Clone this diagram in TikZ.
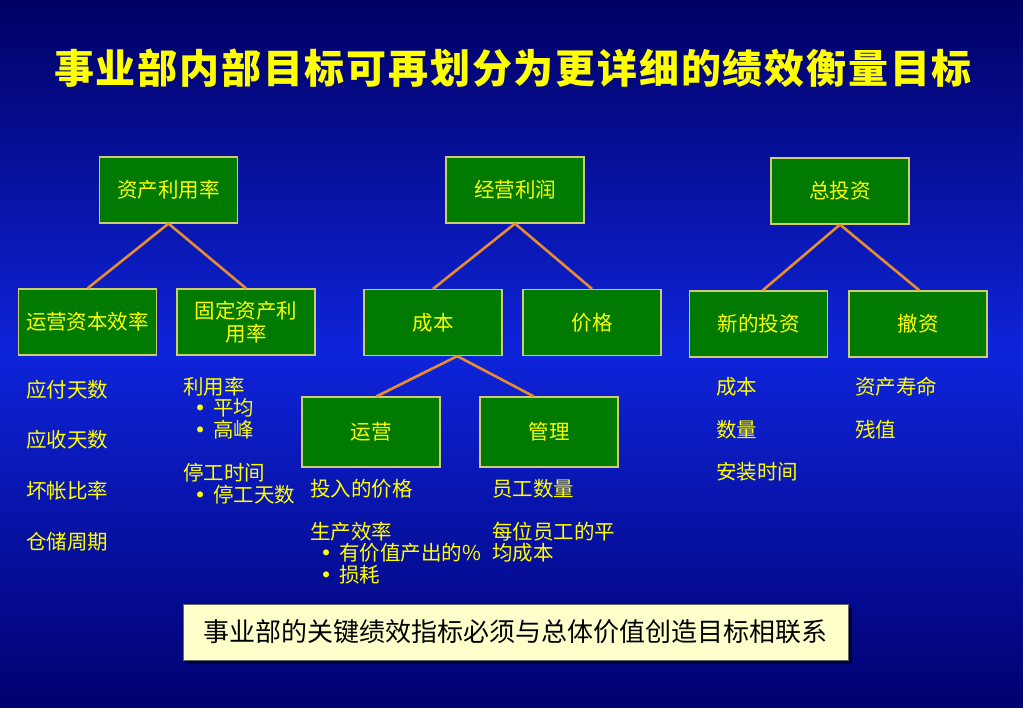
\documentclass[tikz,border=0pt]{standalone}
\usepackage{fontspec}
\setmainfont{Noto Sans CJK SC}
\newfontfamily\bulletfont{DejaVu Sans}
\usetikzlibrary{calc,shadows}
\definecolor{bgtop}{RGB}{0,0,100}
\definecolor{bgmid}{RGB}{14,36,218}
\definecolor{bgbot}{RGB}{0,0,110}
\definecolor{boxgreen}{RGB}{0,122,0}
\definecolor{boxedge}{RGB}{205,205,110}
\definecolor{txtyellow}{RGB}{255,255,0}
\definecolor{connorange}{RGB}{232,140,50}
\definecolor{cream}{RGB}{255,255,204}
\definecolor{shadowcol}{RGB}{0,0,60}
\newcommand{\bul}{{\bulletfont •}\hspace{7pt}}
\tikzset{
  gbox/.style={draw=boxedge, line width=1.2pt, fill=boxgreen, text=txtyellow,
    font=\fontsize{20.5}{23.5}\selectfont, minimum width=138pt, minimum height=66pt,
    inner sep=2pt, align=center},
  conn/.style={draw=connorange, line width=2.6pt},
  lbl/.style={text=txtyellow, font=\fontsize{20.5}{23.5}\selectfont, anchor=west, inner sep=0pt},
  keybox/.style={draw=black!60, line width=0.8pt, fill=cream, text=black,
    font=\fontsize{26}{30}\selectfont, minimum width=665pt, minimum height=56pt,
    drop shadow={shadow xshift=4pt, shadow yshift=-4pt, fill=shadowcol, opacity=1}},
  title/.style={text=txtyellow, font=\fontsize{40}{46}\selectfont\bfseries\addfontfeature{LetterSpace=4.5}}
}
\begin{document}
\begin{tikzpicture}[x=1pt,y=-1pt]
\useasboundingbox (0,0) rectangle (1023,708);
\shade[top color=bgtop, bottom color=bgbot, middle color=bgmid] (0,0) rectangle (1023,708);

\node[title] (ttl) at (513,68) {事业部内部目标可再划分为更详细的绩效衡量目标};

% level 1
\node[gbox] (ast) at (168.5,190) {资产利用率};
\node[gbox] (opr) at (515,190) {经营利润};
\node[gbox] (inv) at (840,191) {总投资};

% level 2
\node[gbox] (wc) at (87.5,322) {运营资本效率};
\node[gbox] (fa) at (246,322) {固定资产利\\用率};
\node[gbox] (cb) at (433,322.5) {成本};
\node[gbox] (pr) at (592,322.5) {价格};
\node[gbox] (ni) at (758.5,324) {新的投资};
\node[gbox] (dv) at (918,324) {撤资};

% level 3
\node[gbox, minimum height=70pt] (yy) at (371,432) {运营};
\node[gbox, minimum height=70pt] (gl) at (549,432) {管理};

% connectors
\draw[conn] (ast.south) -- (wc.north);
\draw[conn] (ast.south) -- (fa.north);
\draw[conn] (opr.south) -- (cb.north);
\draw[conn] (opr.south) -- (pr.north);
\draw[conn] (inv.south) -- ($(ni.north west)!0.53!(ni.north east)$);
\draw[conn] (inv.south) -- ($(dv.north west)!0.51!(dv.north east)$);
\draw[conn] ($(cb.south west)!0.674!(cb.south east)$) -- ($(yy.north west)!0.54!(yy.north east)$);
\draw[conn] ($(cb.south west)!0.674!(cb.south east)$) -- ($(gl.north west)!0.39!(gl.north east)$);

% column 1 labels
\node[lbl] (a1) at (26,390) {应付天数};
\node[lbl] (a2) at (26,440) {应收天数};
\node[lbl] (a3) at (26,491) {坏帐比率};
\node[lbl] (a4) at (26,542) {仓储周期};

% column 2 labels
\node[lbl] (b1) at (183,387) {利用率};
\node[lbl] (b2) at (194,408) {\bul 平均};
\node[lbl] (b3) at (194,430) {\bul 高峰};
\node[lbl] (b4) at (183,473) {停工时间};
\node[lbl] (b5) at (194,495) {\bul 停工天数};

% column 3 labels
\node[lbl] (c1) at (310,489) {投入的价格};
\node[lbl] (c2) at (310,532) {生产效率};
\node[lbl] (c3) at (320,553) {\bul 有价值产出的\%};
\node[lbl] (c4) at (320,575) {\bul 损耗};

% column 4 labels
\node[lbl] (d1) at (492,489) {员工数量};
\node[lbl] (d2) at (492,532) {每位员工的平};
\node[lbl] (d3) at (492,553) {均成本};

% column 5 labels
\node[lbl] (e1) at (716,387) {成本};
\node[lbl] (e2) at (716,430) {数量};
\node[lbl] (e3) at (716,472) {安装时间};

% column 6 labels
\node[lbl] (f1) at (855,387) {资产寿命};
\node[lbl] (f2) at (855,430) {残值};

% bottom key box
\node[keybox] (key) at (515.5,632) {事业部的关键绩效指标必须与总体价值创造目标相联系};
\end{tikzpicture}
\end{document}
